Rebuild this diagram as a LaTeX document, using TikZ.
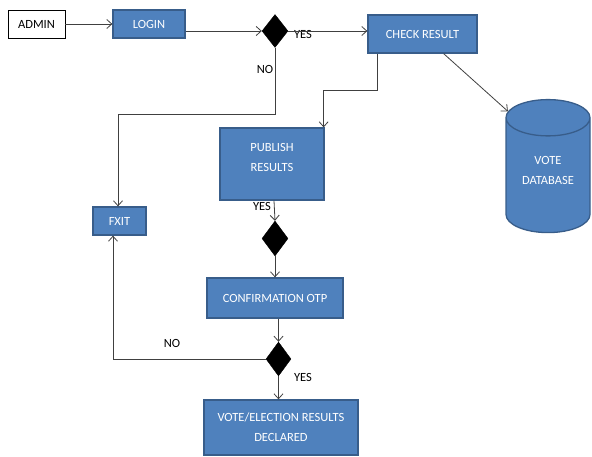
\documentclass[tikz,border=0pt]{standalone}
\usepackage{fontspec}
\setmainfont{Carlito}
\usetikzlibrary{shapes.geometric,arrows.meta,calc}

\definecolor{boxblue}{HTML}{4F81BD}
\definecolor{boxedge}{HTML}{385D8A}
\definecolor{linegray}{HTML}{404040}

\tikzset{
  proc/.style={rectangle, fill=boxblue, draw=boxedge, line width=1.3pt, text=white,
               align=center, inner sep=0pt, font=\fontsize{12.5}{20}\selectfont},
  startbox/.style={rectangle, fill=white, draw=black, line width=0.8pt, inner sep=0pt,
               font=\fontsize{12.5}{14}\selectfont},
  decision/.style={diamond, fill=black, draw=black, inner sep=0pt},
  lbl/.style={inner sep=0pt, font=\fontsize{12.5}{14}\selectfont},
  flow/.style={draw=linegray, line width=0.8pt, -{Straight Barb[length=5pt,width=9pt]}},
  plain/.style={draw=linegray, line width=0.8pt}
}

\begin{document}
\begin{tikzpicture}[x=1pt,y=-1pt]
    \useasboundingbox (0,0) rectangle (592,457);

    % boxes
    \node[startbox, minimum width=57pt, minimum height=28pt] (admin) at (36.5,24) {ADMIN};
    \node[proc, minimum width=72pt, minimum height=28pt] (login) at (149,24) {LOGIN};
    \node[decision, minimum width=26pt, minimum height=33pt] (d1) at (275,31) {};
    \node[proc, minimum width=109pt, minimum height=38pt] (check) at (422.5,34) {CHECK RESULT};
    \node[proc, minimum width=53pt, minimum height=28pt] (exit) at (119.5,221) {FXIT};
    \node[proc, minimum width=104pt, minimum height=72pt] (publish) at (272,164) {PUBLISH\\RESULTS\\[-6pt]~};
    \node[cylinder, shape border rotate=90, aspect=0.7, fill=boxblue, draw=boxedge,
          line width=1.3pt, text=white, align=center, inner sep=0pt,
          minimum width=84pt, minimum height=133pt, font=\fontsize{12.5}{20}\selectfont]
          (db) at (548,175.5) {VOTE\\DATABASE\\[-10pt]~};
    \node[decision, minimum width=26pt, minimum height=35pt] (d2) at (275,238.5) {};
    \node[proc, minimum width=136pt, minimum height=40pt] (conf) at (275,298) {CONFIRMATION OTP};
    \node[decision, minimum width=25pt, minimum height=34pt] (d3) at (278.5,359) {};
    \node[proc, minimum width=154pt, minimum height=55pt] (final) at (281,427.5) {VOTE/ELECTION RESULTS\\DECLARED};

    % labels
    \node[lbl] (yes1) at (303,34) {YES};
    \node[lbl] (no1) at (265,69) {NO};
    \node[lbl] (yes2) at (262,206) {YES};
    \node[lbl] (no2) at (172,343) {NO};
    \node[lbl] (yes3) at (303,377) {YES};

    % connectors
    \draw[flow] (admin.east) -- (login.west);
    \draw[flow] (login.east |- d1.west) -- (d1.west);
    \draw[flow] (d1.east) -- (d1.east -| check.west);
    \draw[flow] (d1.south) -- ++(0,67) -| ($(exit.north)+(-1.5,0)$);
    \draw[flow] (check.south west) ++(10,0) -- ++(0,37) -| ($(publish.north east)+(-1,0)$);
    \draw[flow] ($(check.south east)+(-34,0)$) -- (db.122);
    \draw[flow] ($(publish.south)+(2,0)$) -- (d2.north);
    \draw[flow] (d2.south) -- (d2.south |- conf.north);
    \draw[flow] (conf.south -| d3.north) -- (d3.north);
    \draw[flow] (d3.west) -| ($(exit.south)+(-6.5,0)$);
    \draw[flow] (d3.south) -- (d3.south |- final.north);

\end{tikzpicture}
\end{document}
